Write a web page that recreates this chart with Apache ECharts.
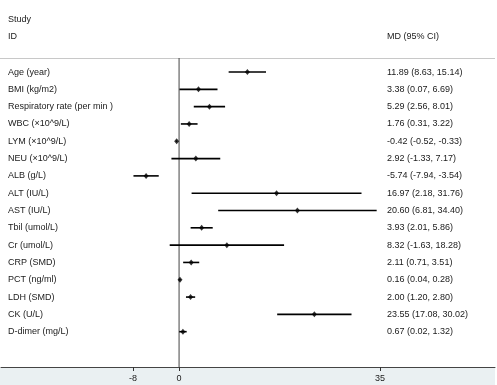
<!DOCTYPE html>
<html>
<head>
<meta charset="utf-8">
<script src="https://cdn.jsdelivr.net/npm/echarts@6/dist/echarts.min.js"></script>
<style>html,body{margin:0;padding:0;background:#fff;overflow:hidden}#c{width:497px;height:385px}</style>
</head>
<body>
<div id="c"></div>
<script>
var studies = ['Age (year)','BMI (kg/m2)','Respiratory rate (per min )','WBC (\u00d710^9/L)','LYM (\u00d710^9/L)','NEU (\u00d710^9/L)','ALB (g/L)','ALT (IU/L)','AST (IU/L)','Tbil (umol/L)','Cr (umol/L)','CRP (SMD)','PCT (ng/ml)','LDH (SMD)','CK (U/L)','D-dimer (mg/L)'];
var md    = [11.89, 3.38, 5.29, 1.76, -0.42, 2.92, -5.74, 16.97, 20.60, 3.93, 8.32, 2.11, 0.16, 2.00, 23.55, 0.67];
var lower = [8.63, 0.07, 2.56, 0.31, -0.52, -1.33, -7.94, 2.18, 6.81, 2.01, -1.63, 0.71, 0.04, 1.20, 17.08, 0.02];
var upper = [15.14, 6.69, 8.01, 3.22, -0.33, 7.17, -3.54, 31.76, 34.40, 5.86, 18.28, 3.51, 0.28, 2.80, 30.02, 1.32];
var xTicks = [-8, 0, 35];
var nullLine = [0];

var rowIdx = studies.map(function(_, i){ return i; });
var fmt = function(v){ return v.toFixed(2); };
var ciText = md.map(function(m, i){ return fmt(m) + ' (' + fmt(lower[i]) + ', ' + fmt(upper[i]) + ')'; });

var chart = echarts.init(document.getElementById('c'), null, {renderer:'canvas'});
var FONT = 'Liberation Sans, Arial, sans-serif';
var TXT = '#1a1a1a';

var option = {
  animation: false,
  backgroundColor: '#fff',
  grid: {left: 1, right: 2, top: 58, bottom: 18, containLabel: false, show: false},
  xAxis: {
    type: 'value', min: -31, max: 55,
    splitLine: {show: false},
    axisLine: {show: true, onZero: false, lineStyle: {color: '#444', width: 1}},
    axisTick: {show: true, customValues: xTicks, length: 4, lineStyle: {color: '#333'}},
    axisLabel: {show: true, customValues: xTicks, fontSize: 9, color: TXT, fontFamily: FONT, margin: 7}
  },
  yAxis: {
    type: 'value', inverse: true, min: -0.81, max: 17.04, position: 'left',
    splitLine: {show: false},
    axisLine: {show: false, onZero: false}, axisTick: {show: false},
    axisLabel: {show: true, inside: true, margin: 7, align: 'left', customValues: rowIdx,
      fontSize: 9, color: TXT, fontFamily: FONT,
      formatter: function(v){ return studies[Math.round(v)] || ''; }}
  },
  graphic: [
    {type: 'rect', z: -1, shape: {x: 0, y: 368, width: 495, height: 17}, style: {fill: '#eaf0f2'}},
    {type: 'line', shape: {x1: 0, y1: 58.5, x2: 495, y2: 58.5}, style: {stroke: '#c8c8c8', lineWidth: 1}},
    {type: 'text', x: 8, y: 20, style: {text: 'Study', fontSize: 9, fontFamily: FONT, fill: TXT, textVerticalAlign: 'middle'}},
    {type: 'text', x: 8, y: 37, style: {text: 'ID', fontSize: 9, fontFamily: FONT, fill: TXT, textVerticalAlign: 'middle'}},
    {type: 'text', x: 387, y: 37, style: {text: 'MD (95% CI)', fontSize: 9, fontFamily: FONT, fill: TXT, textVerticalAlign: 'middle'}}
  ],
  series: [{
    type: 'custom',
    renderItem: function(params, api){
      var cs = params.coordSys;
      var p = api.coord([api.value(0), 0]);
      return {type: 'line', shape: {x1: p[0], y1: cs.y, x2: p[0], y2: cs.y + cs.height},
        style: {stroke: '#444', lineWidth: 1}};
    },
    encode: {x: 0},
    data: nullLine.map(function(v){ return [v]; }),
    silent: true
  }, {
    type: 'custom',
    renderItem: function(params, api){
      var i = api.value(0);
      var p1 = api.coord([api.value(1), i]);
      var p2 = api.coord([api.value(2), i]);
      return {type: 'group', children: [
        {type: 'line', shape: {x1: p1[0], y1: p1[1], x2: p2[0], y2: p2[1]},
          style: {stroke: '#000', lineWidth: 1.6}},
        {type: 'text', x: 387, y: p1[1],
          style: {text: ciText[i], fontSize: 9, fontFamily: FONT, fill: TXT,
            textAlign: 'left', textVerticalAlign: 'middle'}}
      ]};
    },
    encode: {x: [1, 2], y: 0},
    data: rowIdx.map(function(i){ return [i, lower[i], upper[i]]; }),
    silent: true
  }, {
    type: 'scatter',
    symbol: 'diamond', symbolSize: [5, 6],
    itemStyle: {color: '#000'},
    data: rowIdx.map(function(i){ return [md[i], i]; }),
    z: 3,
    silent: true
  }]
};
chart.setOption(option);
</script>
</body>
</html>
